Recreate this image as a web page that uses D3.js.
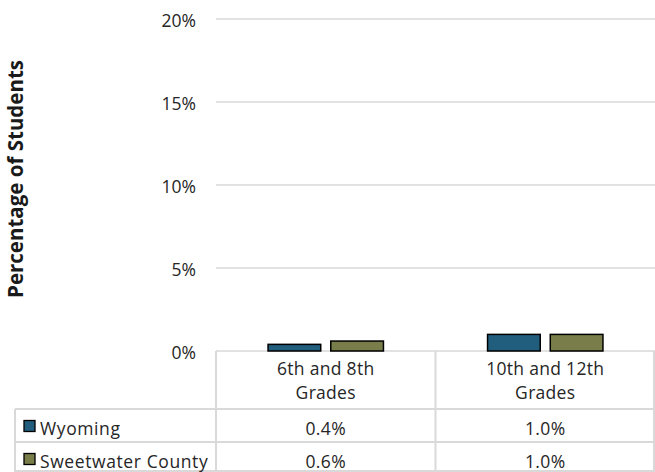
<!DOCTYPE html>
<html>
<head>
<meta charset="utf-8">
<script src="https://d3js.org/d3.v7.min.js"></script>
<style>
  body { margin: 0; background: #fff; }
  text { font-family: "Open Sans", sans-serif; fill: #262626; }
</style>
</head>
<body>
<div id="chart"></div>
<script>
const categories = ["6th and 8th|Grades", "10th and 12th|Grades"];
const seriesNames = ["Wyoming", "Sweetwater County"];
const wyoming = [0.4, 1.0];
const sweetwater = [0.6, 1.0];
const yTicks = [0, 5, 10, 15, 20];

const colors = ["#215d7d", "#787d4a"];
const values = [wyoming, sweetwater];

const width = 655, height = 472;
const plotLeft = 216, plotRight = 655, plotTop = 19, plotBottom = 351;
const rowTops = [409, 442];
const gridColor = "#d9d9d9";
const fs = 17.5;

const svg = d3.select("#chart").append("svg")
    .attr("width", width)
    .attr("height", height);

const x = d3.scaleBand()
    .domain(d3.range(categories.length))
    .range([plotLeft, plotRight]);

const xInner = d3.scaleBand()
    .domain(d3.range(seriesNames.length))
    .range([0, x.bandwidth()])
    .paddingInner(0.16)
    .paddingOuter(0.83);

const y = d3.scaleLinear()
    .domain([0, 20])
    .range([plotBottom, plotTop]);

// gridlines
svg.append("g")
    .selectAll("line")
    .data(yTicks)
    .join("line")
    .attr("x1", plotLeft)
    .attr("x2", plotRight)
    .attr("y1", d => y(d))
    .attr("y2", d => y(d))
    .attr("stroke", gridColor)
    .attr("stroke-width", 1.5);

// y tick labels
svg.append("g")
    .selectAll("text")
    .data(yTicks)
    .join("text")
    .attr("x", 196)
    .attr("y", d => y(d) + 8)
    .attr("text-anchor", "end")
    .attr("font-size", fs)
    .text(d => d + "%");

// y axis title
svg.append("text")
    .attr("transform", "translate(23,179) rotate(-90)")
    .attr("text-anchor", "middle")
    .attr("font-size", 20.5)
    .attr("font-weight", "bold")
    .style("fill", "#1a1a1a")
    .text("Percentage of Students");

// bars
values.forEach((vals, s) => {
    svg.append("g")
        .selectAll("rect")
        .data(vals)
        .join("rect")
        .attr("x", (d, i) => x(i) + xInner(s))
        .attr("y", d => y(d))
        .attr("width", xInner.bandwidth())
        .attr("height", d => y(0) - y(d))
        .attr("fill", colors[s])
        .attr("stroke", "#000")
        .attr("stroke-width", 1.5);
});

// data table lines
const table = svg.append("g")
    .attr("stroke", gridColor)
    .attr("stroke-width", 2);

d3.range(categories.length + 1).forEach(i => {
    const xx = i < categories.length ? x(i) : plotRight - 1;
    table.append("line")
        .attr("x1", xx).attr("x2", xx)
        .attr("y1", plotBottom).attr("y2", height);
});
table.append("line")
    .attr("x1", 15).attr("x2", 15)
    .attr("y1", rowTops[0]).attr("y2", height);
rowTops.forEach(yy => {
    table.append("line")
        .attr("x1", 15).attr("x2", plotRight)
        .attr("y1", yy).attr("y2", yy);
});
table.append("line")
    .attr("x1", 15).attr("x2", plotRight)
    .attr("y1", height - 1).attr("y2", height - 1);

// category labels
categories.forEach((c, i) => {
    const t = svg.append("text")
        .attr("text-anchor", "middle")
        .attr("font-size", fs)
        .attr("letter-spacing", 0.3);
    c.split("|").forEach((line, j) => {
        t.append("tspan")
            .attr("x", x(i) + x.bandwidth() / 2)
            .attr("y", 375 + j * 24)
            .text(line);
    });
});

// legend rows with values
seriesNames.forEach((name, s) => {
    const base = rowTops[s] + 25.5;
    svg.append("rect")
        .attr("x", 24)
        .attr("y", base - 14)
        .attr("width", 11)
        .attr("height", 11)
        .attr("fill", colors[s])
        .attr("stroke", "#000")
        .attr("stroke-width", 1.3);
    svg.append("text")
        .attr("x", 40)
        .attr("y", base)
        .attr("font-size", fs)
        .attr("letter-spacing", 0.6)
        .text(name);
    values[s].forEach((v, i) => {
        svg.append("text")
            .attr("x", x(i) + x.bandwidth() / 2)
            .attr("y", base)
            .attr("text-anchor", "middle")
            .attr("font-size", fs)
            .attr("letter-spacing", 0.4)
            .text(v.toFixed(1) + "%");
    });
});
</script>
</body>
</html>
